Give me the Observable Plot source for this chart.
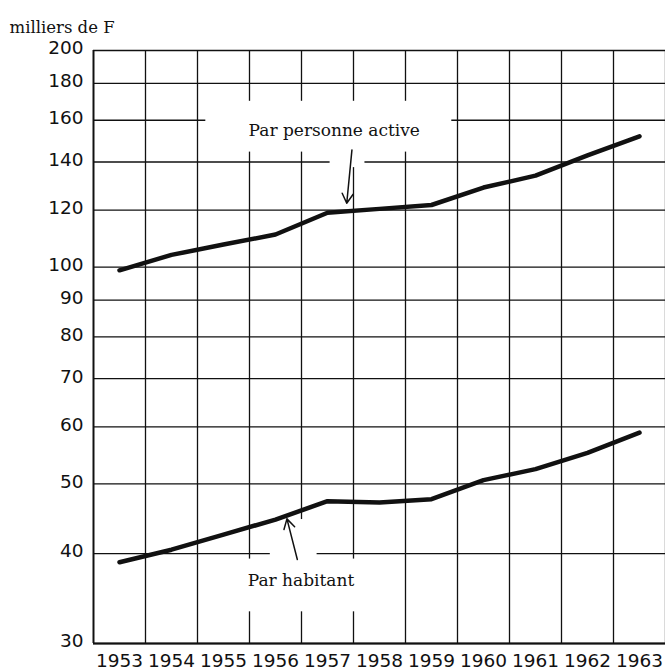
<!DOCTYPE html>
<html>
<head>
<meta charset="utf-8">
<script src="https://cdn.jsdelivr.net/npm/d3@7"></script>
<script src="https://cdn.jsdelivr.net/npm/@observablehq/plot@0.6"></script>
<style>
  html, body { margin: 0; padding: 0; background: #fff; }
</style>
</head>
<body>
<div id="chart"></div>
<script>
// ---- data ----
const years = [1953, 1954, 1955, 1956, 1957, 1958, 1959, 1960, 1961, 1962, 1963];
const parPersonneActive = [99, 104, 107.5, 111, 119, 120.5, 122, 129, 134, 143, 152];
const parHabitant = [38.9, 40.5, 42.5, 44.6, 47.3, 47.1, 47.6, 50.6, 52.4, 55.2, 58.9];
const yTicks = [30, 40, 50, 60, 70, 80, 90, 100, 120, 140, 160, 180, 200];
const unitLabel = "milliers de F";

// annotations (data coordinates)
const annotationText = ["Par personne active", "Par habitant"];
const annotationX = [1957.13, 1956.49];
const annotationY = [154.6, 36.7];
const arrowX1 = [1957.47, 1956.42];
const arrowY1 = [145.5, 39.25];
const arrowX2 = [1957.37, 1956.22];
const arrowY2 = [122.7, 44.7];
// blank areas cut out of the grid around the annotations
const blankX1 = [1954.66, 1957.05, 1955.35, 1955.9];
const blankX2 = [1959.39, 1957.72, 1957.62, 1956.8];
const blankY1 = [144.5, 137.5, 33.2, 39.0];
const blankY2 = [170, 145, 39.3, 44.6];

// ---- tables built from the arrays ----
const series = [
  ...years.map((yr, i) => ({year: yr, value: parPersonneActive[i], serie: "active"})),
  ...years.map((yr, i) => ({year: yr, value: parHabitant[i], serie: "habitant"}))
];
const boundaries = [...years.map(d => d - 0.5), years[years.length - 1] + 0.5];
const annotations = annotationText.map((t, i) => ({text: t, x: annotationX[i], y: annotationY[i]}));
const arrows = arrowX1.map((_, i) => ({x1: arrowX1[i], y1: arrowY1[i], x2: arrowX2[i], y2: arrowY2[i]}));
const blanks = blankX1.map((_, i) => ({x1: blankX1[i], x2: blankX2[i], y1: blankY1[i], y2: blankY2[i]}));

const serif = "'DejaVu Serif', 'Liberation Serif', serif";

const chart = Plot.plot({
  width: 665,
  height: 671,
  marginTop: 50,
  marginBottom: 28,
  marginLeft: 93,
  marginRight: 0,
  style: {fontFamily: "DejaVu Sans", fontSize: "18px", color: "#111", background: "#fff"},
  x: {
    type: "linear",
    domain: [boundaries[0], boundaries[boundaries.length - 1]],
    label: null
  },
  y: {
    type: "log",
    domain: [yTicks[0], yTicks[yTicks.length - 1]],
    label: null
  },
  marks: [
    Plot.ruleY(yTicks, {stroke: "#111", strokeWidth: 1.3}),
    Plot.ruleX(boundaries, {stroke: "#111", strokeWidth: 1.3}),
    Plot.ruleY([yTicks[0]], {stroke: "#111", strokeWidth: 2}),
    Plot.ruleX([boundaries[0]], {stroke: "#111", strokeWidth: 1.8}),
    Plot.rect(blanks, {x1: "x1", x2: "x2", y1: "y1", y2: "y2", fill: "#fff"}),
    Plot.axisX(years, {tickSize: 0, tickPadding: 10, tickFormat: d => String(d), fontSize: 18.5, fill: "#111", label: null}),
    Plot.axisY(yTicks, {tickSize: 0, tickPadding: 10, tickFormat: d => String(d), fontSize: 18.5, fill: "#111", dy: -2, label: null}),
    Plot.line(series, {x: "year", y: "value", z: "serie", stroke: "#111", strokeWidth: 4.5, strokeLinejoin: "round", strokeLinecap: "round"}),
    Plot.arrow(arrows, {x1: "x1", y1: "y1", x2: "x2", y2: "y2", stroke: "#111", strokeWidth: 1.5, headLength: 11, bend: 0}),
    Plot.text(annotations, {x: "x", y: "y", text: "text", fontFamily: serif, fontSize: 17, fill: "#111"}),
    Plot.text([unitLabel], {frameAnchor: "top-left", dx: -84, dy: -29, textAnchor: "start", fontFamily: serif, fontSize: 16.5, fill: "#111"})
  ]
});
document.getElementById("chart").appendChild(chart);
</script>
</body>
</html>
